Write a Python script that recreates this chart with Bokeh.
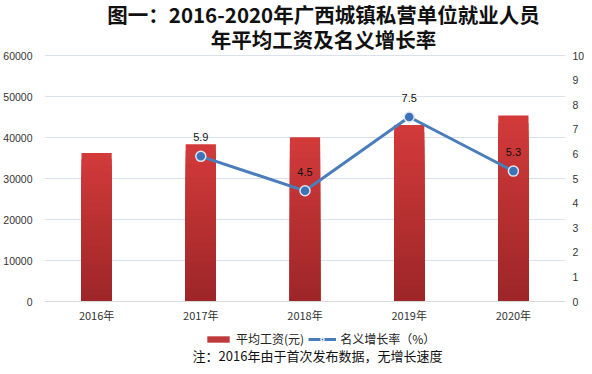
from bokeh.plotting import figure
from bokeh.models import (ColumnDataSource, LinearAxis, Range1d, FactorRange, Legend, LegendItem,
                          Label, FixedTicker, LabelSet)
from bokeh.core.properties import value
from bokeh.embed import file_html
from bokeh.resources import INLINE

years = ["2016年", "2017年", "2018年", "2019年", "2020年"]
wages = [36200, 38340, 40060, 43060, 45340]
growth_years = ["2017年", "2018年", "2019年", "2020年"]
growth = [5.9, 4.5, 7.5, 5.3]
growth_labels = ["5.9", "4.5", "7.5", "5.3"]
wage_ticks = [0, 10000, 20000, 30000, 40000, 50000, 60000]
pct_ticks = [0, 1, 2, 3, 4, 5, 6, 7, 8, 9, 10]

title1 = "图一：2016-2020年广西城镇私营单位就业人员"
title2 = "年平均工资及名义增长率"
note = "注：2016年由于首次发布数据，无增长速度"

CJK = "Noto Sans CJK SC"
LAT = "Liberation Sans"

# The frame fills the whole canvas height; the ticked part (0..60000) spans
# canvas pixels 55..301, title above it and legend/note below it, inside the frame.
H = 370
TOP_PX = 55
ZERO_PX = 301
AXIS_PX = ZERO_PX - TOP_PX


def ext_range(vmax):
    per_px = vmax / AXIS_PX
    return Range1d(-(H - ZERO_PX) * per_px, ZERO_PX * per_px)


p = figure(x_range=FactorRange(factors=years, range_padding=0),
           y_range=ext_range(wage_ticks[-1]),
           frame_width=521, frame_height=H, output_backend="svg", toolbar_location=None,
           min_border_left=44, min_border_right=27, min_border_top=0, min_border_bottom=0)
p.outline_line_color = None
p.background_fill_color = "white"
p.border_fill_color = "white"

# gradient bars: overlapping bars from full height down
N = 24
top_c = (210, 58, 58)
bot_c = (158, 38, 40)
for k in range(N):
    f = (N - k) / N
    t = k / (N - 1)
    c = tuple(int(round(top_c[i] + (bot_c[i] - top_c[i]) * t)) for i in range(3))
    col = "#%02x%02x%02x" % c
    p.vbar(x=years, top=[w * f for w in wages], width=0.29, fill_color=col, line_color=None)

legend_bar = p.vbar(x=years[:1], top=[0], width=0.29, fill_color="#c0393b", line_color=None)

p.extra_y_ranges = {"pct": ext_range(pct_ticks[-1])}
src = ColumnDataSource(dict(x=growth_years, y=growth, lab=growth_labels))
line = p.line("x", "y", source=src, y_range_name="pct", line_color="#4a7ebb", line_width=3)
pts = p.scatter("x", "y", source=src, y_range_name="pct", size=10, fill_color="#3b72b8",
                line_color="#dfe6f0", line_width=1.5)
labels = LabelSet(x="x", y="y", text="lab", source=src, y_range_name="pct", y_offset=19,
                  text_align="center", text_baseline="middle", text_font_size="11px",
                  text_font=value(LAT), text_color="#111111")
p.add_layout(labels)

# axes
p.yaxis.ticker = FixedTicker(ticks=wage_ticks)
p.yaxis.axis_line_color = None
p.yaxis.major_tick_line_color = None
p.yaxis.minor_tick_line_color = None
p.yaxis.major_label_standoff = 6
p.yaxis.major_label_text_font = LAT
p.yaxis.major_label_text_font_size = "10.5px"
p.yaxis.major_label_text_color = "#333333"

right = LinearAxis(y_range_name="pct", ticker=FixedTicker(ticks=pct_ticks))
right.axis_line_color = None
right.major_tick_line_color = None
right.minor_tick_line_color = None
right.major_tick_out = 0
right.major_label_standoff = 7
right.major_label_text_font = LAT
right.major_label_text_font_size = "10.5px"
right.major_label_text_color = "#333333"
p.add_layout(right, "right")

p.xaxis.fixed_location = 0
p.xaxis.axis_line_color = "#d9d9d9"
p.xaxis.major_tick_line_color = None
p.xaxis.minor_tick_line_color = None
p.xaxis.major_tick_out = 0
p.xaxis.major_label_standoff = 5
p.xaxis.major_label_text_font = CJK
p.xaxis.major_label_text_font_size = "11px"
p.xaxis.major_label_text_color = "#333333"

p.xgrid.grid_line_color = None
p.ygrid.grid_line_color = "#d9e2ec"

legend = Legend(items=[LegendItem(label="平均工资(元)", renderers=[legend_bar]),
                       LegendItem(label="名义增长率（%）", renderers=[line, pts])],
                orientation="horizontal", location=(160, 23),
                glyph_width=28, glyph_height=8, label_height=12, label_standoff=4, spacing=4,
                padding=2, margin=0, border_line_color=None, background_fill_alpha=0,
                label_text_font=CJK, label_text_font_size="12px", label_text_color="#222222")
p.add_layout(legend, "center")

p.add_layout(Label(x=273, y=H - 355, x_units="screen", y_units="screen", text=note,
                   text_align="center", text_baseline="middle", text_font=CJK,
                   text_font_size="13px", text_color="#111111"))
p.add_layout(Label(x=279, y=H - 13, x_units="screen", y_units="screen", text=title1,
                   text_align="center", text_baseline="middle", text_font=CJK,
                   text_font_size="20.5px", text_font_style="bold", text_color="#111111"))
p.add_layout(Label(x=279, y=H - 38, x_units="screen", y_units="screen", text=title2,
                   text_align="center", text_baseline="middle", text_font=CJK,
                   text_font_size="20.5px", text_font_style="bold", text_color="#111111"))

open("out.html", "w").write(file_html(p, INLINE))
